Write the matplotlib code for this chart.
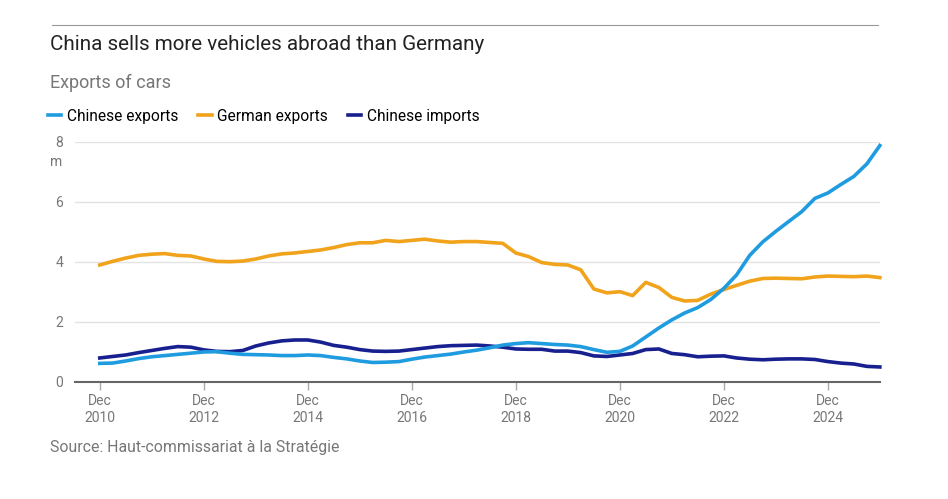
import numpy as np
import pandas as pd
import matplotlib
matplotlib.use("Agg")
import matplotlib.pyplot as plt
from matplotlib.lines import Line2D

plt.rcParams['font.family'] = ['Roboto', 'DejaVu Sans']

# quarterly readings, Dec 2010 -> Dec 2025 (millions of cars)
dates = pd.date_range("2010-12-01", periods=61, freq="3MS")

chinese_exports = [
    0.62, 0.63, 0.70, 0.78, 0.84, 0.88, 0.92, 0.96, 1.00, 1.01,
    0.96, 0.92, 0.91, 0.90, 0.88, 0.88, 0.90, 0.88, 0.82, 0.77,
    0.70, 0.65, 0.66, 0.68, 0.76, 0.83, 0.88, 0.93, 1.00, 1.06,
    1.14, 1.23, 1.28, 1.31, 1.28, 1.25, 1.23, 1.18, 1.08, 0.99,
    1.02, 1.20, 1.50, 1.80, 2.07, 2.30, 2.48, 2.75, 3.12, 3.57,
    4.22, 4.67, 5.02, 5.35, 5.68, 6.12, 6.30, 6.58, 6.85, 7.27,
    7.88,
]
german_exports = [
    3.90, 4.02, 4.13, 4.22, 4.26, 4.28, 4.22, 4.20, 4.10, 4.02,
    4.01, 4.03, 4.10, 4.20, 4.27, 4.30, 4.35, 4.40, 4.48, 4.58,
    4.64, 4.64, 4.72, 4.68, 4.72, 4.76, 4.70, 4.66, 4.68, 4.68,
    4.65, 4.62, 4.30, 4.18, 3.98, 3.92, 3.90, 3.74, 3.10, 2.97,
    3.01, 2.88, 3.32, 3.15, 2.82, 2.70, 2.72, 2.93, 3.08, 3.22,
    3.36, 3.45, 3.46, 3.45, 3.44, 3.50, 3.53, 3.52, 3.51, 3.53,
    3.48,
]
chinese_imports = [
    0.80, 0.85, 0.90, 0.98, 1.05, 1.12, 1.18, 1.16, 1.07, 1.02,
    1.01, 1.05, 1.20, 1.30, 1.37, 1.40, 1.40, 1.33, 1.22, 1.16,
    1.08, 1.03, 1.02, 1.03, 1.08, 1.13, 1.18, 1.21, 1.22, 1.23,
    1.20, 1.16, 1.10, 1.09, 1.09, 1.03, 1.03, 0.98, 0.87, 0.85,
    0.90, 0.95, 1.08, 1.10, 0.95, 0.91, 0.84, 0.86, 0.87, 0.80,
    0.76, 0.74, 0.76, 0.77, 0.77, 0.75, 0.68, 0.63, 0.60, 0.52,
    0.50,
]

tick_years = [2010, 2012, 2014, 2016, 2018, 2020, 2022, 2024]
y_ticks = [0, 2, 4, 6, 8]

col_cn_exp = "#1f9ce0"
col_de_exp = "#f0a31b"
col_cn_imp = "#18208f"
grey_txt = "#777777"

fig = plt.figure(figsize=(9.48, 4.99), dpi=100)
ax = fig.add_axes([0.0791, 0.2345, 0.849, 0.481])

ax.plot(dates, chinese_imports, color=col_cn_imp, lw=2.6, clip_on=False, zorder=3)
ax.plot(dates, german_exports, color=col_de_exp, lw=2.6, clip_on=False, zorder=3)
ax.plot(dates, chinese_exports, color=col_cn_exp, lw=2.6, clip_on=False, zorder=4)

ax.set_ylim(0, 8)
ax.set_xlim(pd.Timestamp("2010-06-10"), pd.Timestamp("2025-12-01"))
ax.set_yticks(y_ticks)
ax.set_yticklabels([str(v) for v in y_ticks])
ax.yaxis.grid(True, color="#e3e3e3", lw=1)
ax.set_axisbelow(True)
for side in ["top", "right", "left"]:
    ax.spines[side].set_visible(False)
ax.spines["bottom"].set_color("#666666")
ax.spines["bottom"].set_linewidth(1.5)
ax.tick_params(axis="y", length=0, pad=14, labelsize=10, labelcolor=grey_txt)
for lab in ax.get_yticklabels():
    lab.set_horizontalalignment("left")
ax.text(-0.031, 0.945, "m", transform=ax.transAxes, fontsize=10, color=grey_txt,
        ha="left", va="top")

ax.set_xticks([pd.Timestamp(f"{y}-12-01") for y in tick_years])
ax.set_xticklabels([f"Dec\n{y}" for y in tick_years])
ax.tick_params(axis="x", length=6, width=1, color="#aaaaaa", labelsize=10,
               labelcolor=grey_txt, pad=3)

# header
fig.add_artist(Line2D([0.055, 0.926], [0.95, 0.95], color="#999999", lw=0.8))
fig.text(0.053, 0.91, "China sells more vehicles abroad than Germany",
         fontsize=14.9, color="#222222", va="center")
fig.text(0.053, 0.834, "Exports of cars", fontsize=13, color=grey_txt, va="center")

handles = [
    Line2D([], [], color=col_cn_exp, lw=2.6),
    Line2D([], [], color=col_de_exp, lw=2.6),
    Line2D([], [], color=col_cn_imp, lw=2.6),
]
fig.legend(handles, ["Chinese exports", "German exports", "Chinese imports"],
           loc="center left", bbox_to_anchor=(0.036, 0.767), ncol=3, frameon=False,
           handlelength=0.85, handletextpad=0.35, columnspacing=1.3, fontsize=11.2)

fig.text(0.053, 0.103, "Source: Haut-commissariat à la Stratégie", fontsize=11.4,
         color=grey_txt, va="center")

fig.savefig("out.png", dpi=100, facecolor="white")
